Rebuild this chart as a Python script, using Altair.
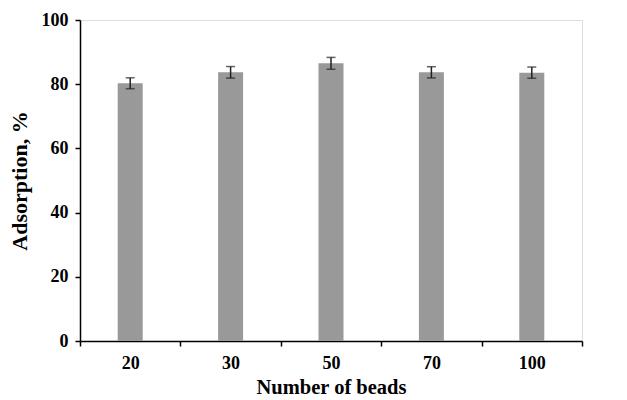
import altair as alt
import pandas as pd

beads = ["20", "30", "50", "70", "100"]
adsorption = [80.3, 83.7, 86.5, 83.7, 83.6]
errors = [1.7, 1.8, 1.85, 1.75, 1.75]

df = pd.DataFrame({"beads": beads, "ads": adsorption, "err": errors})
df["lo"] = df["ads"] - df["err"]
df["hi"] = df["ads"] + df["err"]

FONT = "Liberation Serif"

x = alt.X("beads:N", sort=beads, title="Number of beads",
          scale=alt.Scale(paddingInner=0, paddingOuter=0),
          axis=alt.Axis(labelAngle=0, tickBand="extent", labelFont=FONT, labelFontSize=18,
                        labelFontWeight="bold", titleFont=FONT, titleFontSize=20.5,
                        titleFontWeight="bold", labelColor="black", titleColor="black",
                        domainColor="black", tickColor="black", domainWidth=1.5,
                        tickWidth=1.5, tickSize=5, labelPadding=8, titlePadding=5))

yscale = alt.Scale(domain=[0, 100])
yaxis = alt.Axis(values=[0, 20, 40, 60, 80, 100], grid=False, labelFont=FONT, labelFontSize=18,
                 labelFontWeight="bold", titleFont=FONT, titleFontSize=22,
                 titleFontWeight="bold", labelColor="black", titleColor="black",
                 domainColor="black", tickColor="black", domainWidth=1.5, tickWidth=1.5,
                 tickSize=5, labelPadding=7, titlePadding=10)

base = alt.Chart(df)

bars = base.mark_bar(color="#999999", size=25).encode(
    x=x,
    y=alt.Y("ads:Q", scale=yscale, axis=yaxis, title="Adsorption, %"),
)

rule = base.mark_rule(color="#222222", strokeWidth=1.5).encode(
    x=alt.X("beads:N", sort=beads), y="lo:Q", y2="hi:Q")
top = base.mark_tick(color="#222222", size=9, thickness=1.5).encode(
    x=alt.X("beads:N", sort=beads), y="hi:Q")
bot = base.mark_tick(color="#222222", size=9, thickness=1.5).encode(
    x=alt.X("beads:N", sort=beads), y="lo:Q")

chart = alt.layer(bars, rule, top, bot).properties(
    width=502, height=321,
    autosize=alt.AutoSizeParams(type="none"),
    padding={"left": 80, "top": 20, "right": 45, "bottom": 59},
).configure_view(stroke=None).configure(background="white")

chart.save("out.html", embed_options={"renderer": "svg", "actions": False})
